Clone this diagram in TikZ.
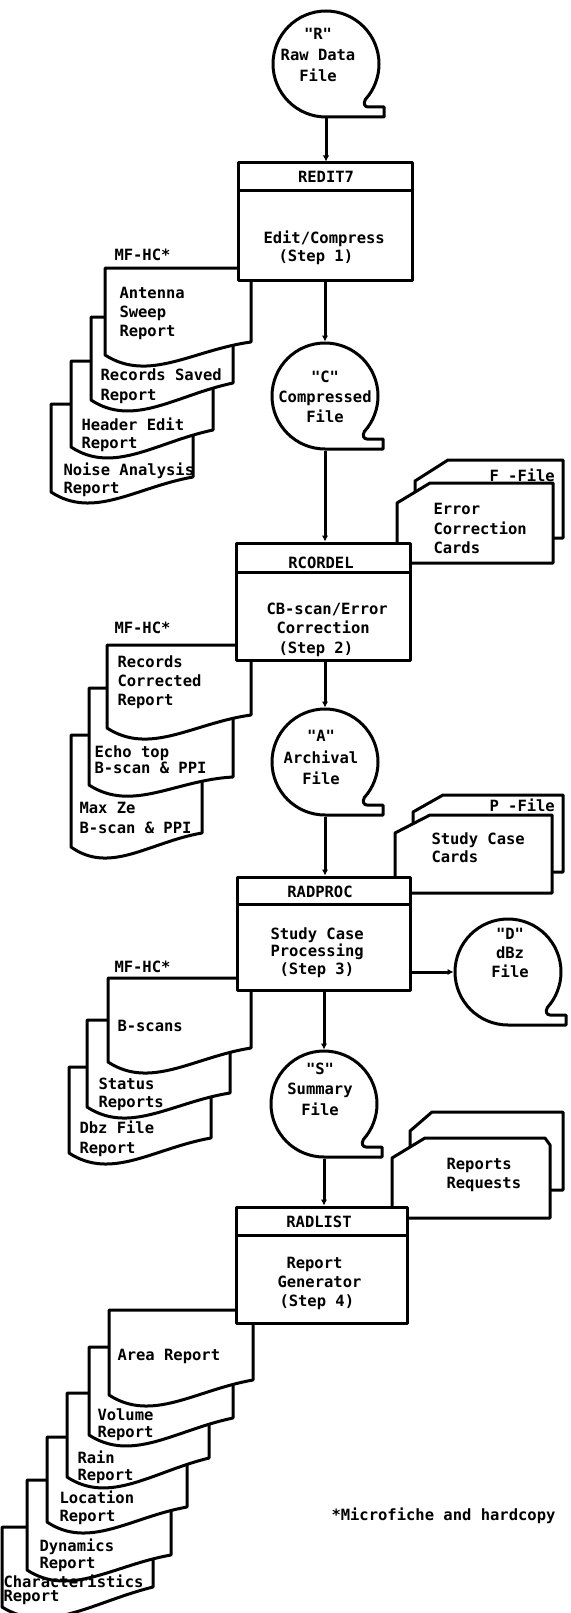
\documentclass[tikz,border=0pt]{standalone}
\usepackage{fontspec}
\setmainfont{DejaVu Sans Mono}[Ligatures=TeXOff]
\usetikzlibrary{arrows.meta}
\newcommand\qq{\char"0022\relax}
\newcommand\docshape[5]{%
  \filldraw[sheet] (#1,-#2) -- ({#1+#3},-#2) -- ({#1+#3},{-(#2+#4-#5)})
    .. controls ({#1+0.6*#3},{-(#2+#4-5)}) and ({#1+0.3*#3},{-(#2+#4+28)}) .. (#1,{-(#2+#4)}) -- cycle;}
\begin{document}
\begin{tikzpicture}[x=1pt,y=1pt,line width=3pt,line join=round,
  sheet/.style={draw=black,fill=white},
  txt/.style={inner sep=0pt,font=\fontsize{15.5}{19}\selectfont\bfseries,align=left,anchor=north west},
  ctxt/.style={inner sep=0pt,font=\fontsize{15.5}{20}\selectfont\bfseries,align=center,anchor=north},
  htxt/.style={inner sep=0pt,font=\fontsize{15.5}{19}\selectfont\bfseries,anchor=center},
  box/.style={draw,fill=white,inner sep=0pt,minimum width=174pt,minimum height=117pt},
  tapenode/.style={circle,inner sep=0pt,minimum size=106pt},
  arr/.style={-{Latex[length=6pt,width=6.5pt]}},
  tape/.pic={\filldraw[sheet] (0,-53) arc[start angle=270,end angle=-42,radius=53]
      .. controls +(-120:5) and +(180:3) .. (42,-43) -- (58,-43) -- (58,-53) -- cycle;}]
\useasboundingbox (0,0) rectangle (570,-1613);
\fill[white] (0,0) rectangle (570,-1613);

% ---------- stack 1 ----------
\docshape{51}{404}{142}{88}{15}
\docshape{71}{361}{142}{86}{17}
\docshape{91}{317}{142}{83}{17}
\docshape{105}{268}{146}{87}{13}
% ---------- stack 2 ----------
\docshape{71}{735}{131}{112}{14}
\docshape{89}{688}{144}{97}{8}
\docshape{107}{645}{144}{83}{13}
% ---------- stack 3 ----------
\docshape{69}{1067}{142}{86}{15}
\docshape{87}{1020}{143}{87}{14}
\docshape{108}{978}{143}{84}{14}
% ---------- stack 4 ----------
\docshape{2}{1527}{151}{80}{20}
\docshape{27}{1480}{144}{90}{15}
\docshape{47}{1437}{140}{85}{15}
\docshape{67}{1393}{142}{84}{19}
\docshape{89}{1347}{144}{88}{17}
\docshape{109}{1310}{144}{85}{15}

% ---------- card stacks ----------
\filldraw[sheet] (415,-538) -- (415,-481) -- (448,-460) -- (563,-460) -- (563,-538) -- cycle;
\filldraw[sheet] (397,-563) -- (397,-503) -- (430,-483) -- (553,-483) -- (553,-563) -- cycle;
\filldraw[sheet] (413,-872) -- (413,-812) -- (443,-795) -- (563,-795) -- (563,-872) -- cycle;
\filldraw[sheet] (395,-893) -- (395,-833) -- (430,-815) -- (552,-815) -- (552,-893) -- cycle;
\filldraw[sheet] (410,-1190) -- (410,-1131) -- (432,-1112) -- (563,-1112) -- (563,-1190) -- cycle;
\filldraw[sheet] (392,-1218) -- (392,-1158) -- (425,-1138) -- (545,-1138) -- (550,-1145) -- (550,-1218) -- cycle;

% ---------- process boxes ----------
\node[box] (redit) at (325,-221.5) {};
\draw (238,-191) -- (412,-191);
\node[box] (rcordel) at (323,-601.5) {};
\draw (236,-572) -- (410,-572);
\node[box,minimum width=173pt,minimum height=113pt] (radproc) at (323.5,-933.5) {};
\draw (237,-904) -- (410,-904);
\node[box,minimum width=171pt,minimum height=116pt] (radlist) at (321.5,-1265) {};
\draw (236,-1235) -- (407,-1235);

% ---------- tape files ----------
\pic at (326,-64) {tape};   \node[tapenode] (R) at (326,-64) {};
\pic at (325,-396) {tape};  \node[tapenode] (C) at (325,-396) {};
\pic at (325,-762) {tape};  \node[tapenode] (A) at (325,-762) {};
\pic at (324,-1104) {tape}; \node[tapenode] (S) at (324,-1104) {};
\pic at (508,-972) {tape};  \node[tapenode] (D) at (508,-972) {};

% ---------- connectors ----------
\draw[arr] (R.south) -- (R.south |- redit.north);
\draw[arr] (C.north |- redit.south) -- (C.north);
\draw[arr] (C.south) -- (C.south |- rcordel.north);
\draw[arr] (A.north |- rcordel.south) -- (A.north);
\draw[arr] (A.south) -- (A.south |- radproc.north);
\draw[arr] (S.north |- radproc.south) -- (S.north);
\draw[arr] (radproc.east |- D.west) -- (D.west);
\draw[arr] (S.south) -- (S.south |- radlist.north);

% ---------- texts ----------
\node[ctxt,font=\fontsize{15.5}{21}\selectfont\bfseries] (tR) at (318,-27) {\qq R\qq\\Raw Data\\File};
\node[ctxt] (tC) at (325,-369) {\qq C\qq\\Compressed\\File};
\node[ctxt,font=\fontsize{15.5}{21.5}\selectfont\bfseries] (tA) at (321,-729) {\qq A\qq\\Archival\\File};
\node[ctxt,font=\fontsize{15.5}{20.5}\selectfont\bfseries] (tS) at (320,-1061) {\qq S\qq\\Summary\\File};
\node[ctxt,font=\fontsize{15.5}{19}\selectfont\bfseries] (tD) at (510,-927) {\qq D\qq\\dBz\\File};

\node[htxt] (h1) at (326,-177) {REDIT7};
\node[htxt] (h2) at (321,-563) {RCORDEL};
\node[htxt] (h3) at (320,-892) {RADPROC};
\node[htxt] (h4) at (319,-1222) {RADLIST};

\node[txt,font=\fontsize{15.5}{18}\selectfont\bfseries] (b1) at (262,-229) {Edit/Compress\\\hspace*{15pt}(Step 1)};
\node[txt,font=\fontsize{15.5}{19.5}\selectfont\bfseries] (b2) at (265,-601) {CB-scan/Error\\\hspace*{10pt}Correction\\\hspace*{12pt}(Step 2)};
\node[txt,font=\fontsize{15.5}{17.5}\selectfont\bfseries] (b3) at (269,-926) {Study Case\\Processing\\\hspace*{9pt}(Step 3)};
\node[txt] (b4) at (276,-1256) {\hspace*{9pt}Report\\Generator\\\hspace*{2pt}(Step 4)};

\node[txt] (m1) at (113,-247) {MF-HC*};
\node[txt] (m2) at (113,-620) {MF-HC*};
\node[txt] (m3) at (113,-959) {MF-HC*};

\node[txt] (t1) at (118,-286) {Antenna\\Sweep\\Report};
\node[txt,font=\fontsize{15.5}{20}\selectfont\bfseries] (t2) at (99,-367) {Records Saved\\Report};
\node[txt,font=\fontsize{15.5}{18}\selectfont\bfseries] (t3) at (80,-416) {Header Edit\\Report};
\node[txt,font=\fontsize{15.5}{18}\selectfont\bfseries] (t4) at (62,-461) {Noise Analysis\\Report};
\node[txt] (t5) at (116,-654) {Records\\Corrected\\Report};
\node[txt,font=\fontsize{15.5}{16.5}\selectfont\bfseries] (t6) at (93,-744) {Echo top\\B-scan \& PPI};
\node[txt,font=\fontsize{15.5}{20}\selectfont\bfseries] (t7) at (78,-801) {Max Ze\\B-scan \& PPI};
\node[txt] (t8) at (116,-1019) {B-scans};
\node[txt,font=\fontsize{15.5}{18}\selectfont\bfseries] (t9) at (97,-1076) {Status\\Reports};
\node[txt,font=\fontsize{15.5}{20}\selectfont\bfseries] (t10) at (78,-1119) {Dbz File\\Report};
\node[txt] (t11) at (116,-1348) {Area Report};
\node[txt,font=\fontsize{15.5}{17}\selectfont\bfseries] (t12) at (96,-1407) {Volume\\Report};
\node[txt,font=\fontsize{15.5}{17}\selectfont\bfseries] (t13) at (76,-1449) {Rain\\Report};
\node[txt,font=\fontsize{15.5}{18}\selectfont\bfseries] (t14) at (58,-1489) {Location\\Report};
\node[txt,font=\fontsize{15.5}{17}\selectfont\bfseries] (t15) at (38,-1537) {Dynamics\\Report};
\node[txt,font=\fontsize{15.5}{14.5}\selectfont\bfseries] (t16) at (2,-1573) {Characteristics\\Report};

\node[txt] (f1) at (488,-467) {F -File};
\node[txt,font=\fontsize{15.5}{19.5}\selectfont\bfseries] (f2) at (432,-502) {Error\\Correction\\Cards};
\node[txt] (p1) at (488,-797) {P -File};
\node[txt,font=\fontsize{15.5}{18}\selectfont\bfseries] (p2) at (430,-831) {Study Case\\Cards};
\node[txt] (r1) at (445,-1157) {Reports\\Requests};

\node[txt] (fn) at (330,-1506) {*Microfiche and hardcopy};
\end{tikzpicture}
\end{document}
